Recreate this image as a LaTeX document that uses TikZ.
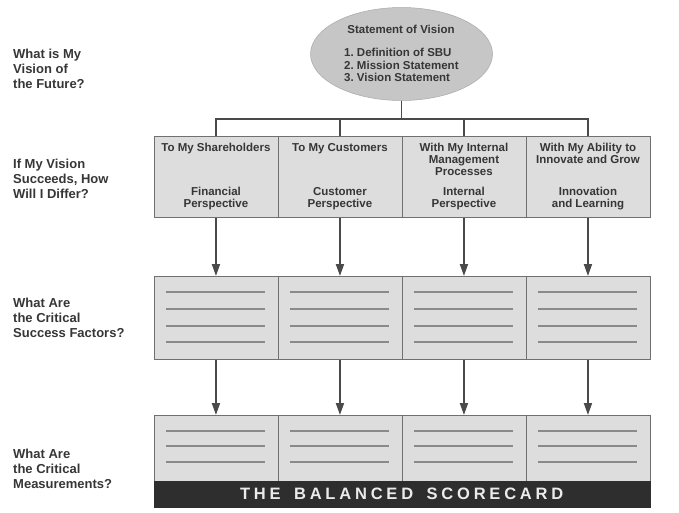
\documentclass[tikz,border=0pt]{standalone}
\usepackage{fontspec}
\setmainfont{Liberation Sans}
\newfontfamily\cardfont[LetterSpace=23,WordSpace=1.6]{Liberation Sans}
\usetikzlibrary{calc,positioning,arrows.meta,shapes.geometric}
\frenchspacing

\definecolor{inkgray}{HTML}{363636}
\definecolor{linkgray}{HTML}{4A4A4A}
\definecolor{edgegray}{HTML}{707070}
\definecolor{panelgray}{HTML}{DDDDDD}
\definecolor{visiongray}{HTML}{C6C6C6}
\definecolor{rulegray}{HTML}{8A8A8A}
\definecolor{bargray}{HTML}{2E2E2E}

\begin{document}
\begin{tikzpicture}[
		x=1pt,
		y=-1pt,
		line join=miter,
		>={Triangle[length=12pt,width=8pt]},
		question/.style={anchor=west, align=left, inner sep=0pt, text=inkgray,
			font=\fontsize{13}{15}\selectfont\bfseries},
		panel/.style={draw=edgegray, fill=panelgray, line width=0.9pt,
			minimum width=124pt, inner sep=0pt, anchor=north west},
		boxtext/.style={align=center, inner sep=0pt, text=inkgray,
			font=\fontsize{11.5}{12}\selectfont\bfseries},
		link/.style={draw=linkgray, line width=1.8pt},
		ruled/.style={draw=rulegray, line width=1.2pt}
		]
		
		\useasboundingbox (0,0) rectangle (679,512);
		
		%------------------------------------------------------------------
		% Vision ellipse
		%------------------------------------------------------------------
		\node[ellipse, draw=visiongray!85!black, fill=visiongray, line width=0.5pt,
		minimum width=182pt, minimum height=93pt, inner sep=0pt] (vision) at (401.5,54) {};
		
		\node[boxtext] (vtitle) at (401,29) {Statement of Vision};
		\node[boxtext, align=left, anchor=north west,
		font=\fontsize{11.5}{12.5}\selectfont\bfseries] (vlist) at (344,48)
		{1. Definition of SBU\\2. Mission Statement\\3. Vision Statement};
		
		\coordinate (hub) at (401.5,119);
		
		%------------------------------------------------------------------
		% Rows of panels
		%------------------------------------------------------------------
		\node[panel, minimum height=81pt] (p1) at (153.5,136) {};
		\node[panel, minimum height=81pt] (p2) at (277.5,136) {};
		\node[panel, minimum height=81pt] (p3) at (401.5,136) {};
		\node[panel, minimum height=81pt] (p4) at (525.5,136) {};
		
		\node[panel, minimum height=83pt] (c1) at (153.5,276) {};
		\node[panel, minimum height=83pt] (c2) at (277.5,276) {};
		\node[panel, minimum height=83pt] (c3) at (401.5,276) {};
		\node[panel, minimum height=83pt] (c4) at (525.5,276) {};
		
		\node[panel, minimum height=66pt] (m1) at (153.5,415) {};
		\node[panel, minimum height=66pt] (m2) at (277.5,415) {};
		\node[panel, minimum height=66pt] (m3) at (401.5,415) {};
		\node[panel, minimum height=66pt] (m4) at (525.5,415) {};
		
		% Perspective texts
		\node[boxtext, below=7pt of p1.north] {To My Shareholders};
		\node[boxtext, below=7pt of p2.north] {To My Customers};
		\node[boxtext, below=7pt of p3.north] {With My Internal\\Management\\Processes};
		\node[boxtext, below=7pt of p4.north] {With My Ability to\\Innovate and Grow};
		
		\node[boxtext, above=7.5pt of p1.south] {Financial\\Perspective};
		\node[boxtext, above=7.5pt of p2.south] {Customer\\Perspective};
		\node[boxtext, above=7.5pt of p3.south] {Internal\\Perspective};
		\node[boxtext, above=7.5pt of p4.south] {Innovation\\and Learning};
		
		% Blank lines to be filled in
		\foreach \i in {1,...,4}{
			\foreach \dy in {16,33,50,66}
			\draw[ruled] ($(c\i.north west)+(12,\dy)$) -- ($(c\i.north east)+(-13,\dy)$);
			\foreach \dy in {16,31,47}
			\draw[ruled] ($(m\i.north west)+(12,\dy)$) -- ($(m\i.north east)+(-13,\dy)$);
		}
		
		% Scorecard bar
		\node[fill=bargray, draw=bargray, minimum width=496pt, minimum height=26pt,
		anchor=north west, inner sep=0pt, text=white!92!black,
		font=\cardfont\fontsize{16.5}{18}\selectfont\bfseries] (card) at (153.5,481)
		{THE BALANCED SCORECARD};
		
		%------------------------------------------------------------------
		% Connectors
		%------------------------------------------------------------------
		\draw[link] (vision.south) -- (hub);
		\draw[link] (p1.north) |- (hub);
		\draw[link] (p4.north) |- (hub);
		\draw[link] (p2.north) -- (p2.north |- hub);
		\draw[link] (p3.north) -- (p3.north |- hub);
		
		\foreach \i in {1,...,4}{
			\draw[link, ->] (p\i.south) -- (c\i.north);
			\draw[link, ->] (c\i.south) -- (m\i.north);
		}
		
		%------------------------------------------------------------------
		% Questions on the left
		%------------------------------------------------------------------
		\node[question] (q1) at (13,69)  {What is My\\Vision of\\the Future?};
		\node[question] (q2) at (13,179) {If My Vision\\Succeeds, How\\Will I Differ?};
		\node[question] (q3) at (13,318) {What Are\\the Critical\\Success Factors?};
		\node[question] (q4) at (13,469) {What Are\\the Critical\\Measurements?};
		
	\end{tikzpicture}
\end{document}
